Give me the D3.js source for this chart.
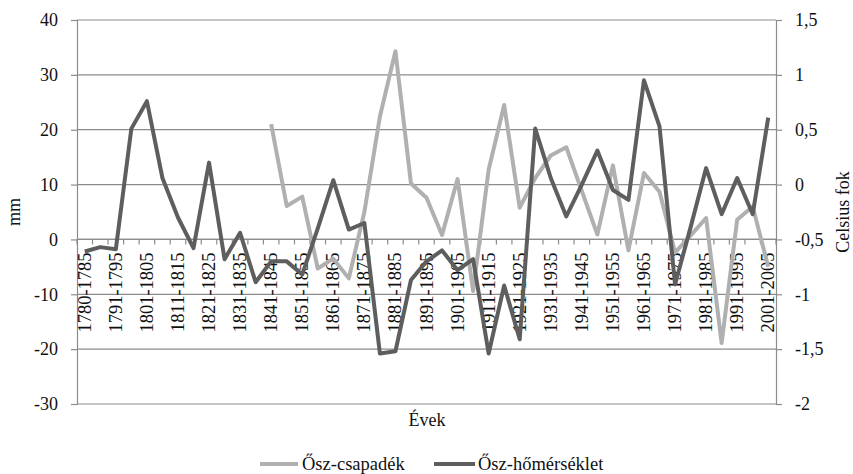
<!DOCTYPE html>
<html>
<head>
<meta charset="utf-8">
<script src="https://cdn.jsdelivr.net/npm/d3@7"></script>
<style>
  html, body { margin: 0; padding: 0; background: #fff; }
  svg { display: block; }
  text { font-family: "Liberation Serif", "DejaVu Serif", serif; fill: #111; }
</style>
</head>
<body>
<svg id="chart" width="853" height="474"></svg>
<script>
// ---- data ----
const categories = [
  "1780-1785","1786-1790","1791-1795","1796-1800","1801-1805","1806-1810","1811-1815","1816-1820",
  "1821-1825","1826-1830","1831-1835","1836-1840","1841-1845","1846-1850","1851-1855","1856-1860",
  "1861-1865","1866-1870","1871-1875","1876-1880","1881-1885","1886-1890","1891-1895","1896-1900",
  "1901-1905","1906-1910","1911-1915","1916-1920","1921-1925","1926-1930","1931-1935","1936-1940",
  "1941-1945","1946-1950","1951-1955","1956-1960","1961-1965","1966-1970","1971-1975","1976-1980",
  "1981-1985","1986-1990","1991-1995","1996-2000","2001-2005"
];
// Ősz-csapadék (mm, left axis)
const precipitation = [
  null, null, null, null, null, null, null, null, null, null, null, null,
  21.0, 6.1, 7.8, -5.3, -3.5, -7.1, 5.0, 22.4, 34.3, 10.2, 7.6, 0.8,
  11.0, -9.4, 12.7, 24.5, 5.8, 11.2, 15.3, 16.8, 8.8, 0.9, 13.5, -2.0,
  12.1, 8.7, -2.4, 0.7, 3.9, -18.9, 3.6, 6.0, -5.0
];
// Ősz-hőmérséklet (Celsius fok, right axis)
const temperature = [
  -0.61, -0.57, -0.59, 0.51, 0.76, 0.06, -0.30, -0.58, 0.20, -0.68, -0.44, -0.89,
  -0.70, -0.70, -0.82, -0.40, 0.04, -0.41, -0.35, -1.54, -1.52, -0.87, -0.70, -0.60,
  -0.78, -0.68, -1.54, -0.92, -1.41, 0.51, 0.06, -0.29, 0.00, 0.31, -0.05, -0.14,
  0.95, 0.53, -0.91, -0.39, 0.15, -0.27, 0.06, -0.27, 0.61
];
const leftTicks = [-30, -20, -10, 0, 10, 20, 30, 40];
const rightTicks = [-2, -1.5, -1, -0.5, 0, 0.5, 1, 1.5];
const seriesNames = ["Ősz-csapadék", "Ősz-hőmérséklet"];

// ---- layout ----
const pLeft = 77, pRight = 776, pTop = 20, pBottom = 404;
const colPrec = "#b0b0b0", colTemp = "#5e5e5e", gridCol = "#8c8c8c";

const svg = d3.select("#chart");
const x = d3.scaleBand().domain(categories).range([pLeft, pRight]).padding(0);
const y = d3.scaleLinear().domain([-30, 40]).range([pBottom, pTop]);
const y2 = d3.scaleLinear().domain([-2, 1.5]).range([pBottom, pTop]);
const cx = c => x(c) + x.bandwidth() / 2;

// gridlines
svg.append("g").selectAll("line").data(leftTicks).join("line")
  .attr("x1", pLeft).attr("x2", pRight)
  .attr("y1", d => y(d)).attr("y2", d => y(d))
  .attr("stroke", gridCol).attr("stroke-width", 1.2);

// left axis
const fmt = d => String(d).replace(".", ",");
const gL = svg.append("g").attr("transform", `translate(${pLeft},0)`)
  .call(d3.axisLeft(y).tickValues(leftTicks).tickSize(6).tickPadding(13).tickFormat(fmt));
// right axis
const gR = svg.append("g").attr("transform", `translate(${pRight},0)`)
  .call(d3.axisRight(y2).tickValues(rightTicks).tickSize(6).tickPadding(13).tickFormat(fmt));
[gL, gR].forEach(g => {
  g.select(".domain").attr("stroke", gridCol).attr("stroke-width", 1.2);
  g.selectAll(".tick line").attr("stroke", gridCol).attr("stroke-width", 1.2);
  g.selectAll(".tick text").attr("font-size", 18).attr("fill", "#111")
    .attr("font-family", '"Liberation Serif", serif');
});

// x axis at y = 0
const gX = svg.append("g").attr("transform", `translate(0,${y(0)})`);
gX.append("line").attr("x1", pLeft).attr("x2", pRight).attr("y1", 0).attr("y2", 0)
  .attr("stroke", gridCol).attr("stroke-width", 1.2);
const boundaries = categories.map(c => x(c)).concat([pRight]);
gX.selectAll("line.tk").data(boundaries).join("line").attr("class", "tk")
  .attr("x1", d => d).attr("x2", d => d).attr("y1", 0).attr("y2", 5)
  .attr("stroke", gridCol).attr("stroke-width", 1.2);
gX.selectAll("text").data(categories.filter((c, i) => i % 2 === 0)).join("text")
  .attr("transform", d => `translate(${cx(d) + 6},13) rotate(-90)`)
  .attr("text-anchor", "end")
  .attr("font-size", 18.5)
  .text(d => d);

// lines
const linePrec = d3.line()
  .defined(d => d.v !== null)
  .x(d => cx(d.c)).y(d => y(d.v));
const lineTemp = d3.line()
  .x(d => cx(d.c)).y(d => y2(d.v));
svg.append("path")
  .datum(categories.map((c, i) => ({ c, v: precipitation[i] })))
  .attr("d", linePrec).attr("fill", "none").attr("stroke", colPrec)
  .attr("stroke-width", 4).attr("stroke-linejoin", "round");
svg.append("path")
  .datum(categories.map((c, i) => ({ c, v: temperature[i] })))
  .attr("d", lineTemp).attr("fill", "none").attr("stroke", colTemp)
  .attr("stroke-width", 4).attr("stroke-linejoin", "round");

// axis titles
svg.append("text").attr("transform", `translate(20,212) rotate(-90)`)
  .attr("text-anchor", "middle").attr("font-size", 18).text("mm");
svg.append("text").attr("transform", `translate(849,212) rotate(-90)`)
  .attr("text-anchor", "middle").attr("font-size", 18).text("Celsius fok");
svg.append("text").attr("x", 427).attr("y", 426)
  .attr("text-anchor", "middle").attr("font-size", 18).text("Évek");

// legend
const legend = [
  { name: seriesNames[0], color: colPrec, x1: 260, x2: 298, tx: 302 },
  { name: seriesNames[1], color: colTemp, x1: 434, x2: 475, tx: 478 }
];
const lg = svg.append("g");
legend.forEach(l => {
  lg.append("line").attr("x1", l.x1).attr("x2", l.x2).attr("y1", 464).attr("y2", 464)
    .attr("stroke", l.color).attr("stroke-width", 4);
  lg.append("text").attr("x", l.tx).attr("y", 470).attr("font-size", 18.5).text(l.name);
});
</script>
</body>
</html>
